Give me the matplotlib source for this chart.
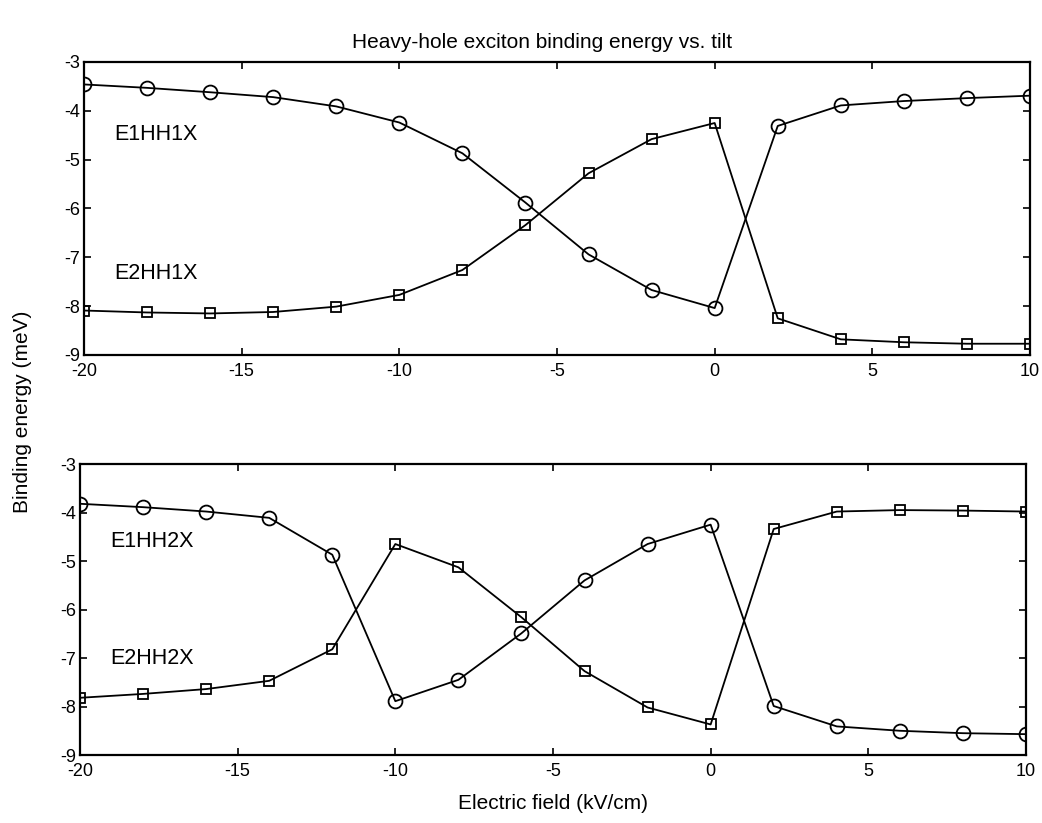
import matplotlib
matplotlib.use("Agg")
import matplotlib.pyplot as plt

plt.rcParams["font.family"] = ["Liberation Sans", "DejaVu Sans"]
plt.rcParams["axes.unicode_minus"] = False

# electric field (kV/cm)
field = [-20, -18, -16, -14, -12, -10, -8, -6, -4, -2, 0, 2, 4, 6, 8, 10]

# binding energies (meV)
e1hh1x = [-3.46, -3.53, -3.62, -3.72, -3.91, -4.24, -4.87, -5.88,
          -6.94, -7.67, -8.04, -4.31, -3.89, -3.80, -3.74, -3.69]
e2hh1x = [-8.09, -8.13, -8.15, -8.12, -8.01, -7.77, -7.26, -6.34,
          -5.28, -4.58, -4.25, -8.25, -8.68, -8.74, -8.77, -8.77]
e1hh2x = [-3.82, -3.89, -3.98, -4.11, -4.87, -7.89, -7.45, -6.49,
          -5.40, -4.65, -4.25, -7.99, -8.41, -8.50, -8.55, -8.57]
e2hh2x = [-7.82, -7.74, -7.64, -7.47, -6.82, -4.65, -5.13, -6.16,
          -7.27, -8.02, -8.37, -4.34, -3.98, -3.95, -3.96, -3.98]

fig = plt.figure(figsize=(10.42, 8.23), dpi=100)
ax1 = fig.add_axes([0.0806, 0.5687, 0.9079, 0.356])
ax2 = fig.add_axes([0.0768, 0.0826, 0.9078, 0.3536])

panels = [
    (ax1, e1hh1x, e2hh1x, "E1HH1X", "E2HH1X", -4.49, -7.33),
    (ax2, e1hh2x, e2hh2x, "E1HH2X", "E2HH2X", -4.59, -7.02),
]
for ax, circ, sq, lab1, lab2, y1, y2 in panels:
    ax.plot(field, circ, "k-o", mfc="none", ms=10, mew=1.3, lw=1.3)
    ax.plot(field, sq, "k-s", mfc="none", ms=7.5, mew=1.3, lw=1.3)
    ax.set_xlim(-20, 10)
    ax.set_ylim(-9, -3)
    ax.set_xticks([-20, -15, -10, -5, 0, 5, 10])
    ax.set_yticks([-9, -8, -7, -6, -5, -4, -3])
    ax.tick_params(axis="both", direction="in", top=True, right=True,
                   labelsize=13, length=5, width=1.2)
    ax.tick_params(axis="x", pad=6)
    ax.tick_params(axis="y", pad=3)
    for sp in ax.spines.values():
        sp.set_linewidth(1.6)
    ax.text(-19.05, y1, lab1, fontsize=15.5, va="center")
    ax.text(-19.05, y2, lab2, fontsize=15.5, va="center")

fig.text(0.52, 0.948, "Heavy-hole exciton binding energy vs. tilt",
         fontsize=15, ha="center", va="center")
fig.text(0.022, 0.5, "Binding energy (meV)", fontsize=15, rotation=90,
         ha="center", va="center")
ax2.set_xlabel("Electric field (kV/cm)", fontsize=15, labelpad=10)

fig.savefig("out.png", dpi=100)
